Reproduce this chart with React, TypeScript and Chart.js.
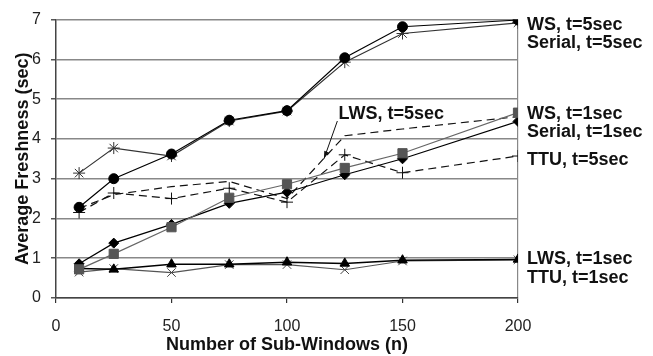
import React, { useEffect, useRef } from "react";
import { Chart, registerables } from "chart.js";

Chart.register(...registerables);

const xValues = [10, 25, 50, 75, 100, 125, 150, 200];
const wsT5 = [2.28, 3.0, 3.62, 4.47, 4.71, 6.04, 6.82, 6.99];
const serialT5 = [3.14, 3.77, 3.57, 4.45, 4.7, 5.93, 6.65, 6.92];
const wsT1 = [0.72, 1.11, 1.78, 2.52, 2.86, 3.27, 3.64, 4.66];
const serialT1 = [0.86, 1.38, 1.85, 2.38, 2.66, 3.1, 3.5, 4.44];
const ttuT5 = [2.15, 2.64, 2.5, 2.76, 2.41, 3.6, 3.15, 3.57];
const lwsT5 = [2.25, 2.6, 2.8, 2.93, 2.5, 4.08, 4.25, 4.56];
const lwsT1 = [0.74, 0.72, 0.85, 0.85, 0.9, 0.87, 0.95, 0.97];
const ttuT1 = [0.65, 0.74, 0.64, 0.84, 0.84, 0.71, 0.93, 0.96];

const xTicks = [0, 50, 100, 150, 200];
const yTicks = [0, 1, 2, 3, 4, 5, 6, 7];

// right-side labels: text and the value (y) at which each is centred
const sideLabels = [
  "WS, t=5sec",
  "Serial, t=5sec",
  "WS, t=1sec",
  "Serial, t=1sec",
  "TTU, t=5sec",
  "LWS, t=1sec",
  "TTU, t=1sec",
];
const sideLabelY = [6.86, 6.4, 4.62, 4.18, 3.47, 0.98, 0.51];

// inner annotation
const innerLabel = "LWS, t=5sec";
const innerLabelPos = [122.3, 4.62];
const arrowFrom = [121.8, 4.45];
const arrowTo = [116, 3.5];

const FONT = "'Liberation Sans', Arial, Helvetica, sans-serif";

const pts = (ys: number[]) => xValues.map((x, i) => ({ x, y: ys[i] }));

const labelPlugin = {
  id: "sideLabels",
  afterDraw(chart: any) {
    const { ctx, chartArea, scales } = chart;
    const xs = scales.x;
    const ys = scales.y;
    ctx.save();
    ctx.fillStyle = "#111";
    ctx.font = `bold 18px ${FONT}`;
    ctx.textAlign = "left";
    ctx.textBaseline = "middle";
    sideLabels.forEach((t, i) => {
      ctx.fillText(t, chartArea.right + 9, ys.getPixelForValue(sideLabelY[i]));
    });
    ctx.fillText(
      innerLabel,
      xs.getPixelForValue(innerLabelPos[0]),
      ys.getPixelForValue(innerLabelPos[1])
    );
    // arrow
    const x1 = xs.getPixelForValue(arrowFrom[0]);
    const y1 = ys.getPixelForValue(arrowFrom[1]);
    const x2 = xs.getPixelForValue(arrowTo[0]);
    const y2 = ys.getPixelForValue(arrowTo[1]);
    ctx.strokeStyle = "#111";
    ctx.lineWidth = 1;
    ctx.beginPath();
    ctx.moveTo(x1, y1);
    ctx.lineTo(x2, y2);
    ctx.stroke();
    const ang = Math.atan2(y2 - y1, x2 - x1);
    const hl = 8;
    ctx.beginPath();
    ctx.moveTo(x2, y2);
    ctx.lineTo(x2 - hl * Math.cos(ang - 0.3), y2 - hl * Math.sin(ang - 0.3));
    ctx.lineTo(x2 - hl * Math.cos(ang + 0.3), y2 - hl * Math.sin(ang + 0.3));
    ctx.closePath();
    ctx.fillStyle = "#111";
    ctx.fill();
    ctx.restore();
  },
};

export default function App() {
  const ref = useRef<HTMLCanvasElement | null>(null);
  useEffect(() => {
    document.body.style.margin = "0";
    const canvas = ref.current;
    if (!canvas) return;
    const base = {
      borderWidth: 1.2,
      showLine: true,
      pointBorderWidth: 1,
    };
    const chart = new Chart(canvas, {
      type: "scatter",
      data: {
        datasets: [
          {
            ...base,
            label: "WS, t=5sec",
            data: pts(wsT5),
            borderColor: "#000",
            backgroundColor: "#000",
            pointStyle: "circle",
            pointRadius: 5,
          },
          {
            ...base,
            label: "Serial, t=5sec",
            data: pts(serialT5),
            borderColor: "#333",
            backgroundColor: "#333",
            pointStyle: "star",
            pointRadius: 6,
          },
          {
            ...base,
            label: "WS, t=1sec",
            data: pts(wsT1),
            borderColor: "#666",
            backgroundColor: "#555",
            pointBorderColor: "#555",
            pointStyle: "rect",
            pointRadius: 6.5,
          },
          {
            ...base,
            label: "Serial, t=1sec",
            data: pts(serialT1),
            borderColor: "#000",
            backgroundColor: "#000",
            pointStyle: "rectRot",
            pointRadius: 5,
          },
          {
            ...base,
            label: "TTU, t=5sec",
            data: pts(ttuT5),
            borderColor: "#111",
            backgroundColor: "#111",
            borderDash: [8, 5],
            pointStyle: "cross",
            pointRadius: 6,
          },
          {
            ...base,
            label: "LWS, t=5sec",
            data: pts(lwsT5),
            borderColor: "#111",
            backgroundColor: "#111",
            borderDash: [8, 5],
            pointRadius: 0,
          },
          {
            ...base,
            label: "LWS, t=1sec",
            data: pts(lwsT1),
            borderColor: "#000",
            backgroundColor: "#000",
            borderWidth: 1.5,
            pointStyle: "triangle",
            pointRadius: 5.5,
          },
          {
            ...base,
            label: "TTU, t=1sec",
            data: pts(ttuT1),
            borderColor: "#555",
            backgroundColor: "#444",
            pointBorderColor: "#444",
            pointStyle: "crossRot",
            pointRadius: 6,
          },
        ],
      },
      options: {
        responsive: false,
        animation: false,
        events: [],
        layout: { padding: { left: 0, right: 135, top: 13, bottom: 0 } },
        plugins: {
          legend: { display: false },
          tooltip: { enabled: false },
        },
        scales: {
          x: {
            type: "linear",
            min: 0,
            max: 200,
            afterBuildTicks: (s: any) => {
              s.ticks = xTicks.map((v) => ({ value: v }));
            },
            afterFit: (s: any) => {
              s.height = 58;
            },
            ticks: {
              color: "#222",
              font: { family: FONT, size: 16 },
              padding: 14,
              maxRotation: 0,
            },
            grid: {
              color: (c: any) => (c.tick && c.tick.value === 200 ? "#888" : "rgba(0,0,0,0)"),
              tickColor: "#333",
              tickLength: 5,
              lineWidth: 1.2,
            },
            border: { color: "#444", width: 1.5 },
            title: {
              display: true,
              text: "Number of Sub-Windows (n)",
              color: "#111",
              font: { family: FONT, size: 18, weight: "bold" },
              padding: { top: 0, bottom: 0 },
            },
          },
          y: {
            type: "linear",
            min: 0,
            max: 7,
            afterBuildTicks: (s: any) => {
              s.ticks = yTicks.map((v) => ({ value: v }));
            },
            afterFit: (s: any) => {
              s.width = 56;
            },
            ticks: {
              color: "#222",
              font: { family: FONT, size: 16 },
              padding: 10,
            },
            grid: {
              color: "#888",
              tickColor: "#555",
              tickLength: 5,
              lineWidth: 1.5,
            },
            border: { color: "#444", width: 1.5 },
            title: {
              display: true,
              text: "Average Freshness (sec)",
              color: "#111",
              font: { family: FONT, size: 18, weight: "bold" },
              padding: { top: 12, bottom: 0 },
            },
          },
        },
      },
      plugins: [labelPlugin],
    } as any);
    return () => chart.destroy();
  }, []);
  return (
    <div style={{ width: 653, height: 356 }}>
      <canvas ref={ref} width={653} height={356} />
    </div>
  );
}
